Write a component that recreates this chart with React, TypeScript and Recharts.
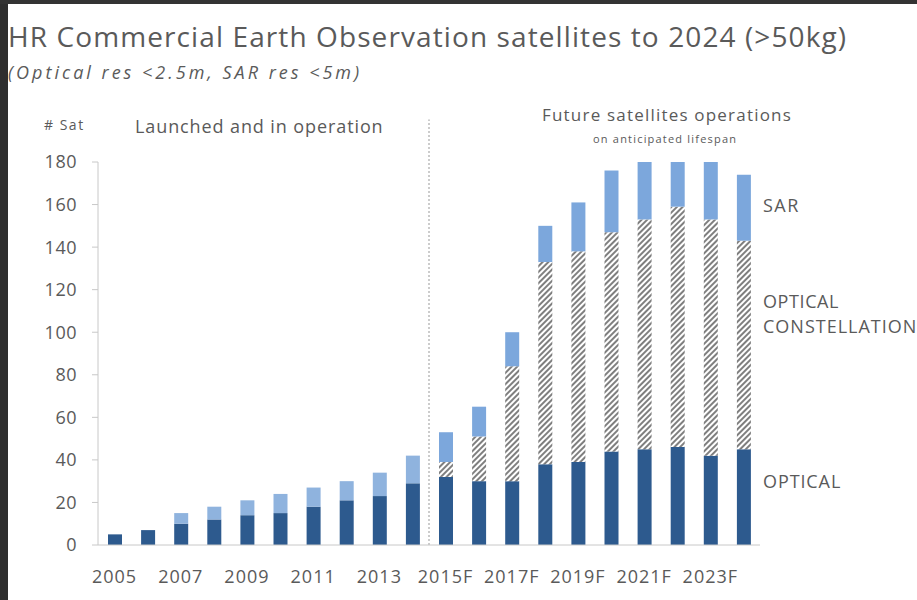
import { BarChart, Bar, XAxis, YAxis, Cell, ReferenceLine } from 'recharts';

const years = [
  '2005', '2006', '2007', '2008', '2009', '2010', '2011', '2012', '2013', '2014',
  '2015F', '2016F', '2017F', '2018F', '2019F', '2020F', '2021F', '2022F', '2023F', '2024F',
];
const optical = [5, 7, 10, 12, 14, 15, 18, 21, 23, 29, 32, 30, 30, 38, 39, 44, 45, 46, 42, 45];
const constellation = [0, 0, 0, 0, 0, 0, 0, 0, 0, 0, 7, 21, 54, 95, 99, 103, 108, 113, 111, 98];
const sar = [0, 0, 5, 6, 7, 9, 9, 9, 11, 13, 14, 14, 16, 17, 23, 29, 27, 21, 27, 31];
const yTicks = [0, 20, 40, 60, 80, 100, 120, 140, 160, 180];
const lastLaunched = '2014';

const chartData = years.map((year, i) => ({
  year,
  optical: optical[i],
  constellation: constellation[i],
  sar: sar[i],
}));

const FONT = '"Open Sans", "Noto Sans", sans-serif';
const GREY = '#5a5a5a';

const label = (extra: React.CSSProperties): React.CSSProperties => ({
  position: 'absolute',
  fontFamily: FONT,
  color: GREY,
  whiteSpace: 'nowrap',
  lineHeight: 1,
  ...extra,
});

export default function App() {
  const launchedCount = years.indexOf(lastLaunched) + 1;

  return (
    <div
      style={{
        position: 'absolute',
        left: 0,
        top: 0,
        width: 917,
        height: 600,
        background: '#fff',
        overflow: 'hidden',
      }}
    >
      {/* dark frame edges of the screenshot */}
      <div style={{ position: 'absolute', left: 0, top: 0, width: 8, height: 600, background: '#2e2e2e' }} />
      <div style={{ position: 'absolute', left: 0, top: 0, width: 917, height: 4, background: '#333' }} />

      {/* hatch pattern for the constellation segment */}
      <svg width={0} height={0} style={{ position: 'absolute' }}>
        <defs>
          <pattern
            id="hatch"
            patternUnits="userSpaceOnUse"
            width={4}
            height={4}
            patternTransform="rotate(45)"
          >
            <rect width={4} height={4} fill="#ffffff" />
            <rect width={2} height={4} fill="#7f7f7f" />
          </pattern>
        </defs>
      </svg>

      <BarChart
        width={917}
        height={600}
        data={chartData}
        margin={{ top: 162, right: 157, left: 0, bottom: 0 }}
        style={{ position: 'absolute', left: 0, top: 0 }}
      >
        <XAxis
          dataKey="year"
          height={55}
          interval={1}
          tickLine={false}
          tickSize={0}
          tickMargin={25}
          axisLine={{ stroke: '#c8c8c8' }}
          tick={{ fontSize: 18, fill: GREY, fontFamily: FONT, letterSpacing: 1 }}
        />
        <YAxis
          width={98}
          domain={[0, 180]}
          ticks={yTicks}
          interval={0}
          tickSize={6}
          tickMargin={15}
          axisLine={{ stroke: '#c8c8c8' }}
          tickLine={{ stroke: '#c8c8c8' }}
          tick={{ fontSize: 18, fill: GREY, fontFamily: FONT, letterSpacing: 0.5 }}
        />

        {/* launched / future divider */}
        <ReferenceLine
          position="end"
          segment={[
            { x: lastLaunched, y: 0 },
            { x: lastLaunched, y: 200 },
          ]}
          ifOverflow="visible"
          stroke="#999"
          strokeDasharray="2 2"
        />

        <Bar dataKey="optical" stackId="a" fill="#2d5a8e" barSize={14} isAnimationActive={false} />
        <Bar dataKey="constellation" stackId="a" fill="url(#hatch)" barSize={14} isAnimationActive={false} />
        <Bar dataKey="sar" stackId="a" fill="#7ca7dc" barSize={14} isAnimationActive={false}>
          {chartData.map((d, i) => (
            <Cell key={d.year} fill={i < launchedCount ? '#8fb3de' : '#7ca7dc'} />
          ))}
        </Bar>
      </BarChart>

      {/* titles */}
      <div style={label({ left: 8, top: 22, fontSize: 28, letterSpacing: 1.1 })}>
        HR Commercial Earth Observation satellites to 2024 (&gt;50kg)
      </div>
      <div style={label({ left: 8, top: 63, fontSize: 18, fontStyle: 'italic', letterSpacing: 3 })}>
        (Optical res &lt;2.5m, SAR res &lt;5m)
      </div>

      {/* annotations */}
      <div style={label({ left: 44, top: 118, fontSize: 14, letterSpacing: 1.5 })}># Sat</div>
      <div style={label({ left: 135, top: 117, fontSize: 18, letterSpacing: 0.9 })}>Launched and in operation</div>
      <div style={label({ left: 542, top: 106, fontSize: 17, letterSpacing: 1.2 })}>Future satellites operations</div>
      <div style={label({ left: 593, top: 133, fontSize: 11, letterSpacing: 1.2 })}>on anticipated lifespan</div>

      {/* series labels */}
      <div style={label({ left: 763, top: 196, fontSize: 18, letterSpacing: 1.5 })}>SAR</div>
      <div style={label({ left: 763, top: 292, fontSize: 18, letterSpacing: 0.6 })}>OPTICAL</div>
      <div style={label({ left: 763, top: 317, fontSize: 18, letterSpacing: 1 })}>CONSTELLATION</div>
      <div style={label({ left: 763, top: 472, fontSize: 18, letterSpacing: 0.9 })}>OPTICAL</div>
    </div>
  );
}
